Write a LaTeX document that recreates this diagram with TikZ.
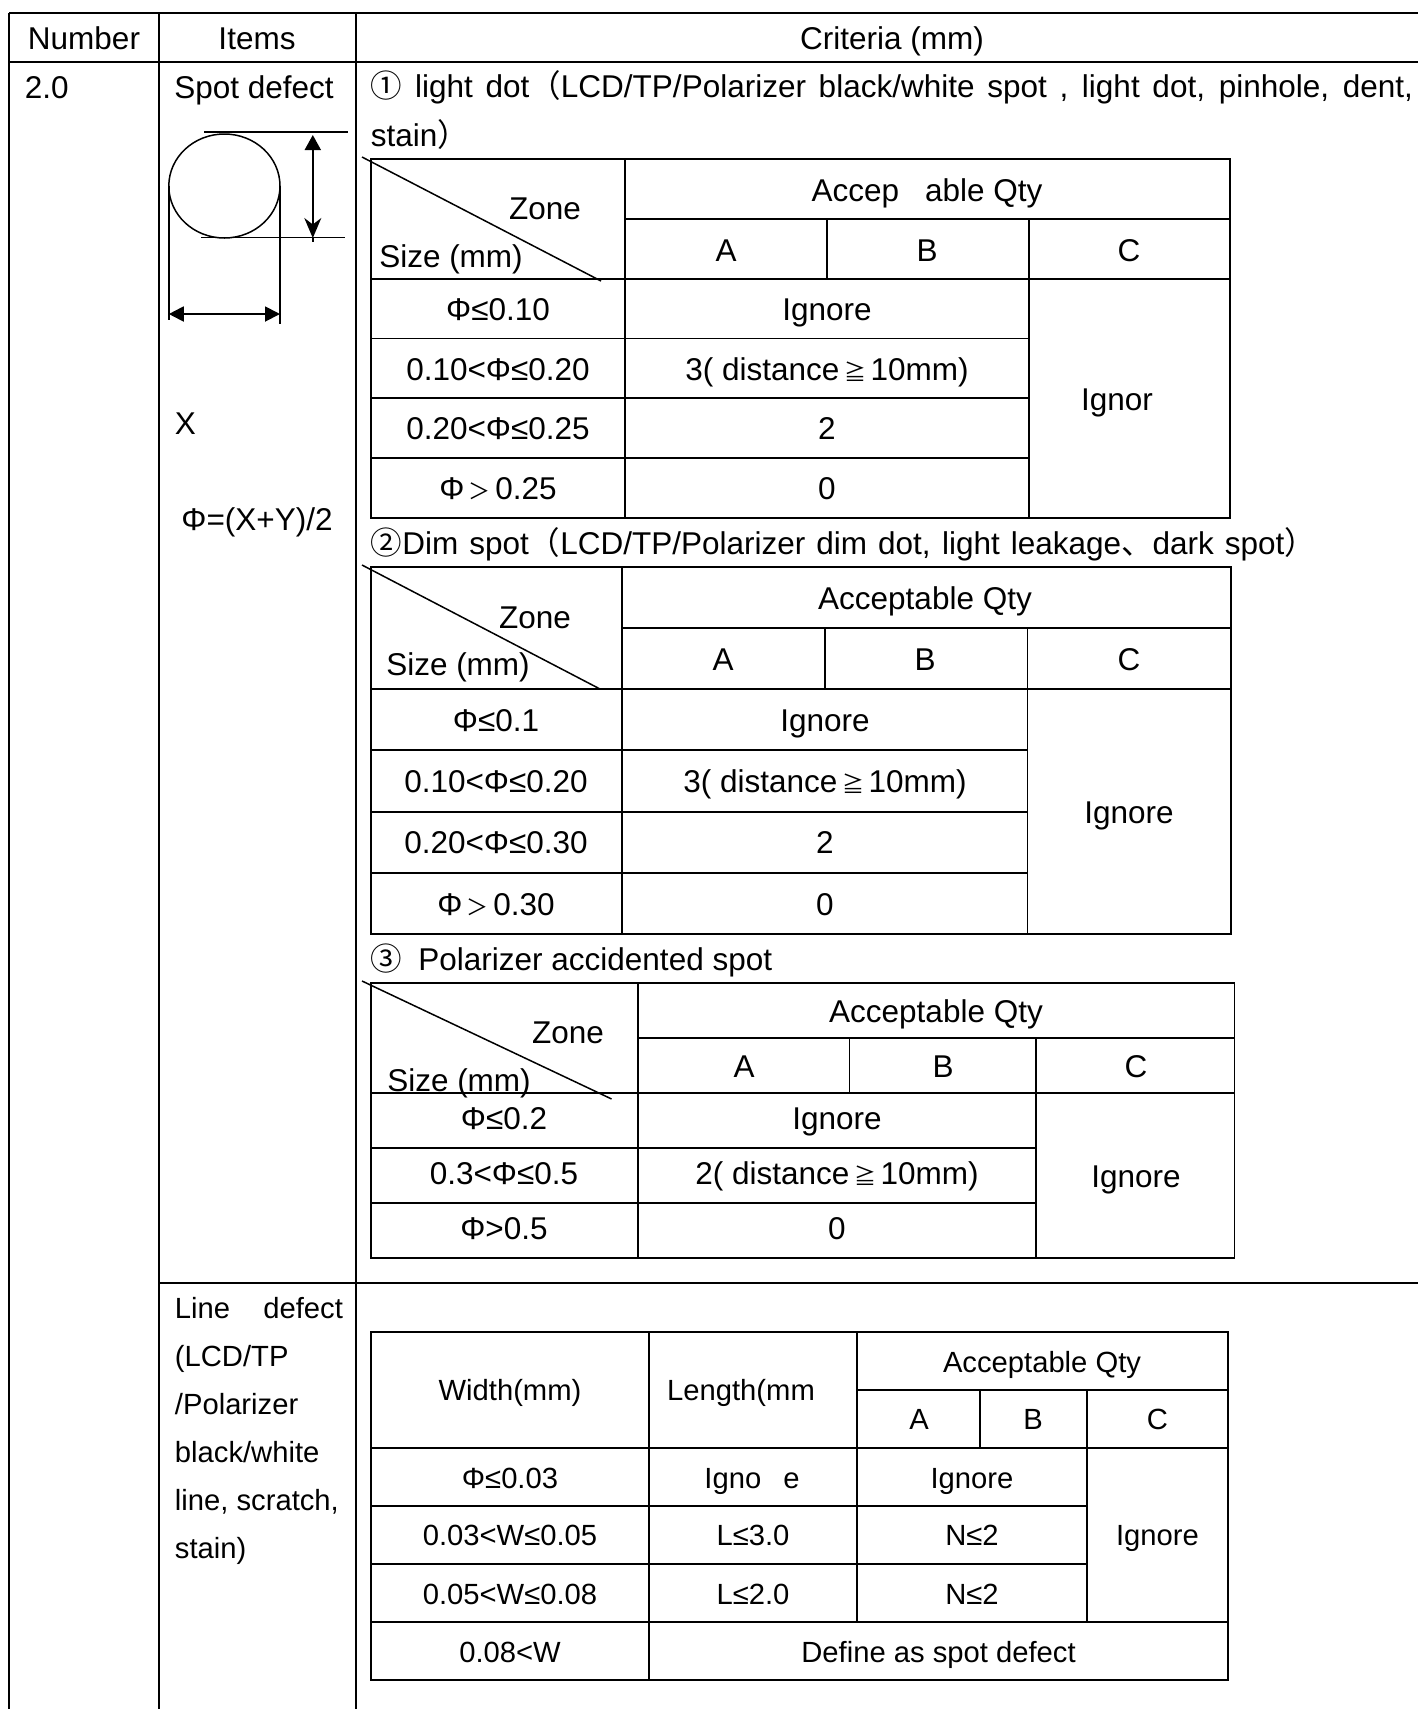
\documentclass[tikz,border=0pt]{standalone}
\usepackage{fontspec}
\setmainfont{Liberation Sans}
\newfontfamily\cjk{Noto Sans CJK SC}
\newcommand{\smallsym}[1]{\hspace{4.5pt}{\cjk\fontsize{22}{22}\selectfont #1}\hspace{4.5pt}}
\usetikzlibrary{arrows.meta}
\tikzset{
	small/.style={font=\fontsize{29.2}{33}\selectfont, text height=21pt},
	leftnode/.style={anchor=west},
	thin line/.style={line width=1.5pt}
}

\begin{document}
\begin{tikzpicture}[x=1pt, y=-1pt, line width=1.9pt, every node/.style={inner sep=0pt, font=\fontsize{31.5}{36}\selectfont, text height=22.5pt, text depth=0pt}]
	\useasboundingbox (0,0) rectangle (1418,1709);

	% outer table
	\draw (9,13)--(1418,13);
	\draw (9,62)--(1418,62);
	\draw (159,1283)--(1418,1283);
	\draw (9,13)--(9,1709);
	\draw (159,13)--(159,1709);
	\draw (356,13)--(356,1709);
	\node (number) at (84,38) {Number};
	\node (items) at (257,38) {Items};
	\node (criteria) at (892,38) {Criteria (mm)};
	\node[leftnode] (num) at (24,87) {2.0};
	\node (spot) at (254,87) {Spot defect};
	\node[leftnode] (x) at (174,423) {X};
	\node (phi) at (257,519) {Φ=(X+Y)/2};

	% spot sketch
	\draw[thin line] (224.4,186) ellipse (55.6 and 52);
	\draw[thin line] (204,132)--(348,132);
	\draw[thin line] (201,237.5)--(345,237.5);
	\draw[thin line] (168.8,186)--(168.8,320);
	\draw[thin line] (280,186)--(280,324);
	\coordinate (vtop) at (312.8,135);
	\coordinate (vbot) at (312.8,238);
	\coordinate (vend) at (312.8,242);
	\coordinate (hl) at (168.8,314);
	\coordinate (hr) at (280,314);
	\draw[{Triangle[length=15pt,width=16pt]}-{Stealth[length=20pt,width=17pt]}] (vtop)--(vbot);
	\draw (vbot)--(vend);
	\draw[{Triangle[length=15pt,width=15pt]}-{Triangle[length=15pt,width=15pt]}] (hl)--(hr);

	% first table
	\node[leftnode] (l1a) at (370,86) {\makebox[1042pt][s]{{\cjk ①} light dot{\cjk （}LCD/TP/Polarizer black/white spot , light dot, pinhole, dent,}};
	\node[leftnode] (l1b) at (370,135) {stain{\cjk ）}};
	\draw (371,159) rectangle (1229.7,518);
	\draw (624.6,159)--(624.6,518);
	\draw (624.6,219)--(1229.7,219);
	\draw (371,279)--(1229.7,279);
	\draw (827,219)--(827,279);
	\draw (1029,219)--(1029,518);
	\draw (371,338.5)--(1029,338.5);
	\draw (371,398)--(1029,398);
	\draw (371,458)--(1029,458);
	\draw[thin line] (362,157)--(601,281);
	\node (a1z) at (545,208) {Zone};
	\node (a1s) at (451,256) {Size (mm)};
	\node (a1q) at (927,190) {Accep\hspace{26pt}able Qty};
	\node (a1a) at (726,250) {A};
	\node (a1b) at (927,250) {B};
	\node (a1c) at (1129,250) {C};
	\node (a2) at (498,309.5) {Φ≤0.10};
	\node (a3) at (498,369) {0.10<Φ≤0.20};
	\node (a4) at (498,428) {0.20<Φ≤0.25};
	\node (a5) at (498,488) {Φ\smallsym{＞}0.25};
	\node (a2i) at (827,309.5) {Ignore};
	\node (a3i) at (827,369) {3( distance\smallsym{≧}10mm)};
	\node (a4i) at (827,428) {2};
	\node (a5i) at (827,488) {0};
	\node (ac) at (1117,399) {Ignor};

	% second table
	\node[leftnode] (l2) at (370,543) {\makebox[945pt][s]{{\cjk ②}Dim spot{\cjk （}LCD/TP/Polarizer dim dot, light leakage{\cjk 、}dark spot{\cjk ）}}};
	\draw (371,567) rectangle (1231,934);
	\draw (622,567)--(622,934);
	\draw (622,628)--(1231,628);
	\draw (371,689)--(1231,689);
	\draw (825,628)--(825,689);
	\draw (1027.5,628)--(1027.5,934);
	\draw (371,750)--(1027.5,750);
	\draw (371,812)--(1027.5,812);
	\draw (371,873)--(1027.5,873);
	\draw[thin line] (362,565)--(600,689);
	\node (b1z) at (535,617) {Zone};
	\node (b1s) at (458,664) {Size (mm)};
	\node (b1q) at (925,598) {Acceptable Qty};
	\node (b1a) at (723,659) {A};
	\node (b1b) at (925,659) {B};
	\node (b1c) at (1129,659) {C};
	\node (b2) at (496,720.5) {Φ≤0.1};
	\node (b3) at (496,781.5) {0.10<Φ≤0.20};
	\node (b4) at (496,842) {0.20<Φ≤0.30};
	\node (b5) at (496,904) {Φ\smallsym{＞}0.30};
	\node (b2i) at (825,720.5) {Ignore};
	\node (b3i) at (825,781.5) {3( distance\smallsym{≧}10mm)};
	\node (b4i) at (825,842) {2};
	\node (b5i) at (825,904) {0};
	\node (bc) at (1129,812) {Ignore};

	% third table
	\node[leftnode] (l3) at (370,959) {{\cjk ③}\hspace{16pt}Polarizer accidented spot};
	\draw (371,983) rectangle (1234.5,1257.7);
	\draw (637.7,983)--(637.7,1257.7);
	\draw (637.7,1038)--(1234.5,1038);
	\draw (371,1093)--(1234.5,1093);
	\draw (849.5,1038)--(849.5,1093);
	\draw (1035.8,1038)--(1035.8,1257.7);
	\draw (371,1148)--(1035.8,1148);
	\draw (371,1202.7)--(1035.8,1202.7);
	\draw[thin line] (362,981)--(611.6,1099);
	\node (c1z) at (568,1032) {Zone};
	\node (c1s) at (459,1080) {Size (mm)};
	\node (c1q) at (936,1011) {Acceptable Qty};
	\node (c1a) at (744,1066) {A};
	\node (c1b) at (943,1066) {B};
	\node (c1c) at (1136,1066) {C};
	\node (c2) at (504,1118) {Φ≤0.2};
	\node (c3) at (504,1173) {0.3<Φ≤0.5};
	\node (c4) at (504,1228) {Φ>0.5};
	\node (c2i) at (837,1118) {Ignore};
	\node (c3i) at (837,1173) {2( distance\smallsym{≧}10mm)};
	\node (c4i) at (837,1228) {0};
	\node (cc) at (1136,1176) {Ignore};

	% line defect
	\node[leftnode,small] (d1) at (174,1308) {\makebox[168pt][s]{Line defect}};
	\node[leftnode,small] (d2) at (174,1356) {(LCD/TP};
	\node[leftnode,small] (d3) at (174,1404) {/Polarizer};
	\node[leftnode,small] (d4) at (174,1452) {black/white};
	\node[leftnode,small] (d5) at (174,1500) {line, scratch,};
	\node[leftnode,small] (d6) at (174,1548) {stain)};

	% fourth table
	\draw (371,1332) rectangle (1228,1680);
	\draw (649.3,1332)--(649.3,1680);
	\draw (857.3,1332)--(857.3,1622);
	\draw (857.3,1390)--(1228,1390);
	\draw (371,1448)--(1228,1448);
	\draw (980.3,1390)--(980.3,1448);
	\draw (1087,1390)--(1087,1622);
	\draw (371,1506)--(1087,1506);
	\draw (371,1564)--(1087,1564);
	\draw (371,1622)--(1228,1622);
	\node[small] (e1w) at (510,1390) {Width(mm)};
	\node[small] (e1l) at (741,1390) {Length(mm};
	\node[small] (e1q) at (1042,1362) {Acceptable Qty};
	\node[small] (e1a) at (919,1419) {A};
	\node[small] (e1b) at (1033,1419) {B};
	\node[small] (e1c) at (1157.5,1419) {C};
	\node[small] (e2) at (510,1478) {Φ≤0.03};
	\node[small] (e3) at (510,1535) {0.03<W≤0.05};
	\node[small] (e4) at (510,1593.5) {0.05<W≤0.08};
	\node[small] (e5) at (510,1652) {0.08<W};
	\node[small] (e2l) at (752,1478) {Igno\hspace{22pt}e};
	\node[small] (e3l) at (753,1535) {L≤3.0};
	\node[small] (e4l) at (753,1593.5) {L≤2.0};
	\node[small] (e2n) at (972,1478) {Ignore};
	\node[small] (e3n) at (972,1535) {N≤2};
	\node[small] (e4n) at (972,1593.5) {N≤2};
	\node[small] (ec) at (1157.5,1535) {Ignore};
	\node[small] (e5d) at (938.5,1652) {Define as spot defect};
\end{tikzpicture}
\end{document}
